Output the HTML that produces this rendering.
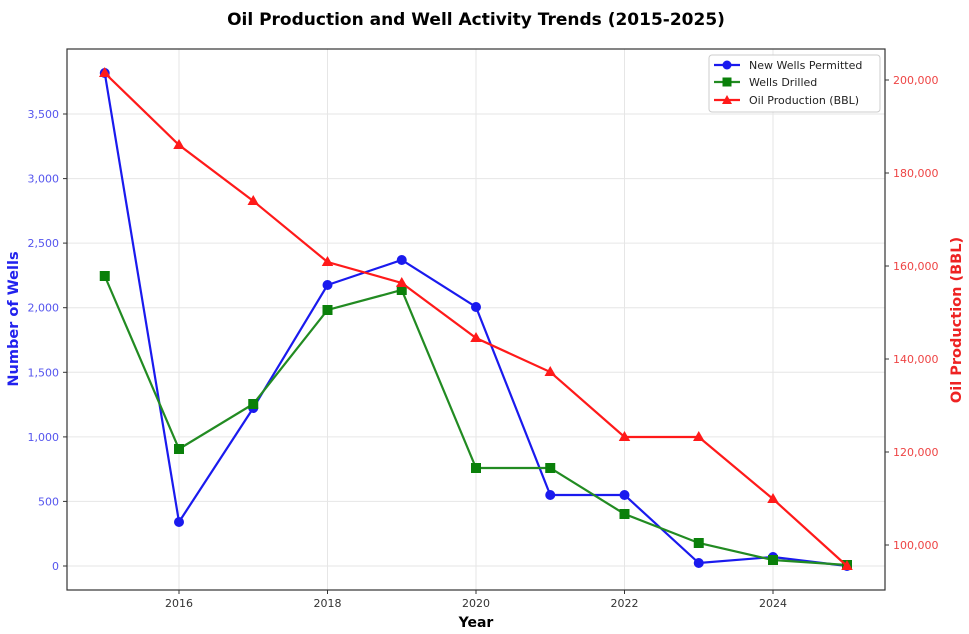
<!DOCTYPE html>
<html><head><style>body{margin:0;background:#fff}svg{display:block}text{font-family:"DejaVu Sans","Liberation Sans",sans-serif}</style></head><body>
<svg width="969" height="634" viewBox="0 0 969 634">
<rect width="969" height="634" fill="#fff"/>
<text x="476" y="25" font-size="17" font-weight="bold" text-anchor="middle" fill="#000">Oil Production and Well Activity Trends (2015-2025)</text>
<g stroke="#e6e6e6" stroke-width="1">
<line x1="179" y1="49" x2="179" y2="590"/><line x1="327.5" y1="49" x2="327.5" y2="590"/><line x1="476" y1="49" x2="476" y2="590"/><line x1="624.5" y1="49" x2="624.5" y2="590"/><line x1="773" y1="49" x2="773" y2="590"/>
<line x1="67" y1="566" x2="885" y2="566"/><line x1="67" y1="501.4" x2="885" y2="501.4"/><line x1="67" y1="436.9" x2="885" y2="436.9"/><line x1="67" y1="372.3" x2="885" y2="372.3"/><line x1="67" y1="307.7" x2="885" y2="307.7"/><line x1="67" y1="243.1" x2="885" y2="243.1"/><line x1="67" y1="178.6" x2="885" y2="178.6"/><line x1="67" y1="114" x2="885" y2="114"/>
</g>
<rect x="67" y="49" width="818" height="541" fill="none" stroke="#333" stroke-width="1.2"/>
<g font-size="11" fill="#5555ee" text-anchor="end">
<text x="59" y="570">0</text><text x="59" y="505.4">500</text><text x="59" y="441">1,000</text><text x="59" y="376.3">1,500</text><text x="59" y="311.7">2,000</text><text x="59" y="247.1">2,500</text><text x="59" y="182.6">3,000</text><text x="59" y="118">3,500</text>
</g>
<g stroke="#333"><line x1="63" y1="566" x2="67" y2="566"/><line x1="63" y1="501.4" x2="67" y2="501.4"/><line x1="63" y1="436.9" x2="67" y2="436.9"/><line x1="63" y1="372.3" x2="67" y2="372.3"/><line x1="63" y1="307.7" x2="67" y2="307.7"/><line x1="63" y1="243.1" x2="67" y2="243.1"/><line x1="63" y1="178.6" x2="67" y2="178.6"/><line x1="63" y1="114" x2="67" y2="114"/>
<line x1="885" y1="545" x2="889" y2="545"/><line x1="885" y1="452" x2="889" y2="452"/><line x1="885" y1="359" x2="889" y2="359"/><line x1="885" y1="266" x2="889" y2="266"/><line x1="885" y1="173" x2="889" y2="173"/><line x1="885" y1="80" x2="889" y2="80"/>
<line x1="179" y1="590" x2="179" y2="594"/><line x1="327.5" y1="590" x2="327.5" y2="594"/><line x1="476" y1="590" x2="476" y2="594"/><line x1="624.5" y1="590" x2="624.5" y2="594"/><line x1="773" y1="590" x2="773" y2="594"/></g>
<g font-size="11" fill="#ee4444">
<text x="893" y="549">100,000</text><text x="893" y="456">120,000</text><text x="893" y="363">140,000</text><text x="893" y="270">160,000</text><text x="893" y="177">180,000</text><text x="893" y="84">200,000</text>
</g>
<g font-size="11" fill="#333" text-anchor="middle">
<text x="179" y="607">2016</text><text x="327.5" y="607">2018</text><text x="476" y="607">2020</text><text x="624.5" y="607">2022</text><text x="773" y="607">2024</text>
</g>
<text x="476" y="627" font-size="14" font-weight="bold" text-anchor="middle">Year</text>
<text transform="translate(18,319) rotate(-90)" font-size="14.5" font-weight="bold" fill="#2222ee" text-anchor="middle">Number of Wells</text>
<text transform="translate(961,320) rotate(-90)" font-size="14.5" font-weight="bold" fill="#ee2222" text-anchor="middle">Oil Production (BBL)</text>
<polyline fill="none" stroke="#1a1aee" stroke-width="2.2" points="104.75,73 179,522 253.25,408 327.5,285 401.75,260 476,307 550.25,495 624.5,495 698.75,563 773,557 847,566"/>
<g fill="#1a1aee"><circle cx="104.75" cy="73" r="5"/><circle cx="179" cy="522" r="5"/><circle cx="253.25" cy="408" r="5"/><circle cx="327.5" cy="285" r="5"/><circle cx="401.75" cy="260" r="5"/><circle cx="476" cy="307" r="5"/><circle cx="550.25" cy="495" r="5"/><circle cx="624.5" cy="495" r="5"/><circle cx="698.75" cy="563" r="5"/><circle cx="773" cy="557" r="5"/><circle cx="847" cy="566" r="5"/></g>
<polyline fill="none" stroke="#228B22" stroke-width="2.2" points="104.75,276 179,449 253.25,404 327.5,310 401.75,290 476,468 550.25,468 624.5,514 698.75,543 773,560 847,565"/>
<g fill="#0a800a"><rect x="99.75" y="271" width="10" height="10"/><rect x="174" y="444" width="10" height="10"/><rect x="248.25" y="399" width="10" height="10"/><rect x="322.5" y="305" width="10" height="10"/><rect x="396.75" y="285" width="10" height="10"/><rect x="471" y="463" width="10" height="10"/><rect x="545.25" y="463" width="10" height="10"/><rect x="619.5" y="509" width="10" height="10"/><rect x="693.75" y="538" width="10" height="10"/><rect x="768" y="555" width="10" height="10"/><rect x="842" y="560" width="10" height="10"/></g>
<polyline fill="none" stroke="#ff1a1a" stroke-width="2.2" points="104.75,73 179,145 253.25,201 327.5,262 401.75,283 476,338 550.25,372 624.5,437 698.75,437 773,499 847,566"/>
<g fill="#ff1a1a">
<polygon points="104.75,67 110.5,77 99,77"/><polygon points="179,139 184.75,149 173.25,149"/><polygon points="253.25,195 259,205 247.5,205"/><polygon points="327.5,256 333.25,266 321.75,266"/><polygon points="401.75,277 407.5,287 396,287"/><polygon points="476,332 481.75,342 470.25,342"/><polygon points="550.25,366 556,376 544.5,376"/><polygon points="624.5,431 630.25,441 618.75,441"/><polygon points="698.75,431 704.5,441 693,441"/><polygon points="773,493 778.75,503 767.25,503"/><polygon points="847,560 852.75,570 841.25,570"/></g>
<rect x="709" y="55" width="171" height="57" rx="3" fill="#fff" fill-opacity="0.9" stroke="#ccc"/>
<line x1="714" y1="65" x2="740" y2="65" stroke="#1a1aee" stroke-width="2.2"/><circle cx="727" cy="65" r="4.5" fill="#1a1aee"/>
<line x1="714" y1="82" x2="740" y2="82" stroke="#228B22" stroke-width="2.2"/><rect x="722.5" y="77.5" width="9" height="9" fill="#0a800a"/>
<line x1="714" y1="100" x2="740" y2="100" stroke="#ff1a1a" stroke-width="2.2"/><polygon points="727,95 732,104 722,104" fill="#ff1a1a"/>
<g font-size="11" fill="#222"><text x="749" y="69">New Wells Permitted</text><text x="749" y="86">Wells Drilled</text><text x="749" y="104">Oil Production (BBL)</text></g>
</svg>
</body></html>
